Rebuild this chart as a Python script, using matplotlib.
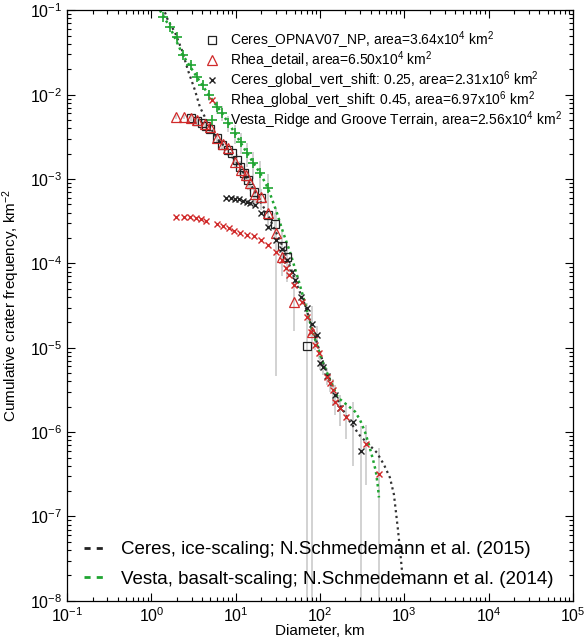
import numpy as np
import matplotlib
matplotlib.use("Agg")
import matplotlib.pyplot as plt
from matplotlib.lines import Line2D
from matplotlib.ticker import LogLocator

plt.rcParams['font.family'] = ['Liberation Sans', 'DejaVu Sans']
plt.rcParams['mathtext.fontset'] = 'custom'
plt.rcParams['mathtext.rm'] = 'Liberation Sans'
plt.rcParams['mathtext.it'] = 'Liberation Sans'
plt.rcParams['mathtext.bf'] = 'Liberation Sans'

# --- data (diameter km, cumulative frequency km^-2, relative error) ---
ceres_np_d = [2.94, 3.46, 3.97, 4.43, 4.94, 5.98, 6.86, 8.07, 9.02, 10.3, 11.2, 12.5, 14.0,
              16.4, 19.9, 24.1, 29.2, 35.3, 40.5, 70.0]
ceres_np_n = [5.27e-3, 4.86e-3, 4.6e-3, 4.24e-3, 3.91e-3, 3.05e-3, 2.52e-3, 2.2e-3, 2.03e-3,
              1.68e-3, 1.39e-3, 1.18e-3, 9.7e-4, 7.0e-4, 5.96e-4, 3.75e-4, 2.93e-4, 1.61e-4,
              1.19e-4, 1.06e-5]
ceres_np_f = [0.08, 0.09, 0.1, 0.1, 0.11, 0.12, 0.13, 0.15, 0.16, 0.17, 0.19, 0.21, 0.23,
              0.26, 0.28, 0.33, 0.36, 0.45, 0.5, 1.0]

rhea_det_d = [1.95, 2.43, 2.94, 3.46, 4.31, 4.94, 5.98, 7.05, 8.07, 9.78, 11.5, 13.2, 14.7,
              16.9, 19.9, 24.1, 30.0, 35.3, 49.0, 80.0]
rhea_det_n = [5.42e-3, 5.42e-3, 5.27e-3, 4.99e-3, 4.48e-3, 4.12e-3, 3.05e-3, 2.6e-3, 2.33e-3,
              1.59e-3, 1.28e-3, 1.11e-3, 8.97e-4, 6.64e-4, 6.12e-4, 3.96e-4, 2.3e-4, 1.19e-4,
              3.5e-5, 1.55e-5]
rhea_det_f = [0.06, 0.06, 0.07, 0.07, 0.08, 0.09, 0.1, 0.11, 0.12, 0.14, 0.16, 0.18, 0.2,
              0.23, 0.25, 0.3, 0.98, 0.4, 0.55, 1.0]

ceres_gl_d = [7.65, 8.77, 9.78, 10.9, 12.2, 13.6, 14.7, 16.9, 19.9, 24.1, 30.0, 35.3, 40.5,
              46.4, 50.4, 59.3, 70.0, 80.0, 91.9, 99.7, 108, 121, 150, 172, 245, 305]
ceres_gl_n = [5.96e-4, 5.96e-4, 5.8e-4, 5.8e-4, 5.5e-4, 5.35e-4, 5.2e-4, 4.92e-4, 3.96e-4,
              2.7e-4, 1.9e-4, 1.49e-4, 1.1e-4, 7.94e-5, 6.38e-5, 4.0e-5, 2.97e-5, 1.92e-5,
              1.43e-5, 6.64e-6, 5.96e-6, 4.66e-6, 2.78e-6, 1.95e-6, 1.33e-6, 5.9e-7]
ceres_gl_f = [0.01, 0.01, 0.01, 0.01, 0.01, 0.01, 0.02, 0.02, 0.02, 0.03, 0.04, 0.05, 0.06,
              0.08, 0.1, 0.12, 0.15, 0.18, 0.25, 0.18, 0.2, 0.22, 0.3, 0.4, 0.7, 1.0]

rhea_gl_d = [1.95, 2.43, 2.86, 3.37, 3.86, 4.43, 5.98, 7.05, 8.3, 9.52, 11.2, 13.6, 16.4,
             19.9, 24.1, 30.0, 35.3, 39.4, 42.7, 49.0, 61.0, 70.0, 78.0, 87.0, 97.0, 121,
             131, 142, 150, 172, 203, 350, 500]
rhea_gl_n = [3.55e-4, 3.55e-4, 3.55e-4, 3.45e-4, 3.36e-4, 3.18e-4, 2.93e-4, 2.78e-4, 2.63e-4,
             2.43e-4, 2.3e-4, 2.17e-4, 2.11e-4, 1.9e-4, 1.66e-4, 1.37e-4, 1.1e-4, 8.85e-5,
             7.31e-5, 5.57e-5, 3.5e-5, 2.33e-5, 1.55e-5, 1.09e-5, 8.73e-6, 4.54e-6, 3.85e-6,
             3.18e-6, 2.3e-6, 1.95e-6, 1.52e-6, 7.3e-7, 3.23e-7]
rhea_gl_f = [0.01, 0.01, 0.01, 0.01, 0.01, 0.01, 0.01, 0.01, 0.01, 0.01, 0.01, 0.01, 0.01,
             0.02, 0.02, 0.02, 0.03, 0.04, 0.05, 0.06, 0.08, 0.1, 0.12, 0.14, 0.16, 0.18,
             0.22, 0.35, 0.3, 0.4, 0.45, 0.68, 1.0]

vesta_d = [1.37, 1.66, 2.01, 2.36, 2.94, 3.46, 4.08, 4.81, 5.98, 6.86, 8.07, 9.78, 11.5,
           13.6, 16.0, 19.4, 24.1]
vesta_n = [8.26e-2, 6.29e-2, 4.79e-2, 2.93e-2, 2.23e-2, 1.61e-2, 1.3e-2, 9.86e-3, 7.11e-3,
           6.04e-3, 4.6e-3, 3.5e-3, 2.74e-3, 2.03e-3, 1.55e-3, 1.18e-3, 7.82e-4]
vesta_f = [0.04, 0.05, 0.06, 0.08, 0.09, 0.11, 0.13, 0.15, 0.18, 0.2, 0.22, 0.25, 0.28,
           0.31, 0.35, 0.4, 0.45]

# production functions
ceres_pf_d = [1.445, 1.569, 1.90, 2.30, 2.71, 3.28, 3.76, 4.31, 4.94, 5.98, 8.08, 11.2, 16.4,
              24.1, 35.3, 50.4, 66.2, 82.4, 108, 138, 172, 226, 297, 370, 473, 573, 675, 753,
              840, 912, 964]
ceres_pf_n = [9.47e-2, 7.62e-2, 5.49e-2, 3.36e-2, 1.95e-2, 1.13e-2, 7.11e-3, 5.42e-3, 4.12e-3,
              3.05e-3, 2.2e-3, 1.39e-3, 7.41e-4, 3.75e-4, 1.66e-4, 6.38e-5, 3.23e-5, 1.63e-5,
              6.83e-6, 3.45e-6, 2.11e-6, 1.33e-6, 9.1e-7, 7.31e-7, 5.71e-7, 4.12e-7, 2.89e-7,
              1.82e-7, 7.02e-8, 3.1e-8, 1.66e-8]

vesta_pf_d = [1.261, 1.658, 2.364, 3.47, 4.81, 6.86, 9.78, 13.6, 19.4, 24.1, 30.0, 36.3, 44.0,
              53.2, 66.2, 80.2, 105, 131, 163, 208, 260, 297, 341, 380, 425, 460, 486, 500]
vesta_pf_n = [1e-1, 6.29e-2, 2.93e-2, 1.61e-2, 9.86e-3, 6.04e-3, 3.5e-3, 2.03e-3, 1.18e-3,
              7.82e-4, 4.3e-4, 2.36e-4, 1.37e-4, 7.31e-5, 3.41e-5, 1.63e-5, 7.21e-6, 4.18e-6,
              2.56e-6, 2.11e-6, 1.75e-6, 1.41e-6, 1.01e-6, 7.11e-7, 4.73e-7, 3.41e-7, 2.26e-7,
              1.68e-7]

RED = '#d02a2a'
GREEN = '#1fa531'
GREY = '#cfcfcf'


def err_bars(ax, d, n, f):
    n = np.array(n)
    f = np.array(f)
    lo = np.maximum(n * (1 - f), 1e-10)
    hi = n * (1 + f)
    ax.errorbar(d, n, yerr=[n - lo, hi - n], fmt='none', ecolor=GREY,
                elinewidth=1.3, capsize=0, zorder=1)


fig = plt.figure(figsize=(5.84, 6.44), dpi=100)
ax = fig.add_axes([0.115, 0.067, 0.866, 0.917])

for d, n, f in [(vesta_d, vesta_n, vesta_f), (ceres_np_d, ceres_np_n, ceres_np_f),
                (rhea_det_d, rhea_det_n, rhea_det_f), (ceres_gl_d, ceres_gl_n, ceres_gl_f),
                (rhea_gl_d, rhea_gl_n, rhea_gl_f)]:
    err_bars(ax, d, n, f)

ax.plot(ceres_pf_d, ceres_pf_n, color='#333333', lw=1.6, ls=(0, (1, 1.6)), zorder=2)
ax.plot(vesta_pf_d, vesta_pf_n, color=GREEN, lw=1.8, ls=(0, (1, 1.4)), zorder=2)

h1, = ax.plot(ceres_np_d, ceres_np_n, 's', mfc='none', mec='#222222', ms=5.5, mew=0.9, zorder=3)
h2, = ax.plot(rhea_det_d, rhea_det_n, '^', mfc='none', mec=RED, ms=6.5, mew=0.9, zorder=3)
h3, = ax.plot(ceres_gl_d, ceres_gl_n, 'x', color='#222222', ms=5, mew=1.0, zorder=4)
h4, = ax.plot(rhea_gl_d, rhea_gl_n, 'x', color=RED, ms=5, mew=1.0, zorder=4)
h5, = ax.plot(vesta_d, vesta_n, '+', color=GREEN, ms=6.5, mew=1.2, zorder=4)

ax.set_xscale('log')
ax.set_yscale('log')
ax.set_xlim(1e-1, 1e5)
ax.set_ylim(1e-8, 1e-1)

for axis in (ax.xaxis, ax.yaxis):
    axis.set_major_locator(LogLocator(base=10, numticks=20))
    axis.set_minor_locator(LogLocator(base=10, subs=np.arange(2, 10), numticks=100))
ax.tick_params(which='both', direction='in', top=True, right=True, labelsize=11.5, width=0.8)
ax.tick_params(which='major', length=6)
ax.tick_params(which='minor', length=3)
ax.tick_params(axis='x', pad=4)
for s in ax.spines.values():
    s.set_linewidth(0.9)

ax.set_xlabel('Diameter, km', fontsize=11, labelpad=-1)
ax.set_ylabel('Cumulative crater frequency, km$^{-2}$', fontsize=11, labelpad=6)

leg1 = ax.legend([h1, h2, h3, h4, h5],
                 ['Ceres_OPNAV07_NP, area=3.64x10$^{4}$ km$^{2}$',
                  'Rhea_detail, area=6.50x10$^{4}$ km$^{2}$',
                  'Ceres_global_vert_shift: 0.25, area=2.31x10$^{6}$ km$^{2}$',
                  'Rhea_global_vert_shift: 0.45, area=6.97x10$^{6}$ km$^{2}$',
                  'Vesta_Ridge and Groove Terrain, area=2.56x10$^{4}$ km$^{2}$'],
                 loc='upper right', bbox_to_anchor=(0.995, 0.982), frameon=False, fontsize=10,
                 handlelength=0.8, handletextpad=0.9, labelspacing=-0.12, borderaxespad=0.2)
ax.add_artist(leg1)

pf_handles = [Line2D([], [], color='#222222', lw=2, ls=(0, (2.2, 2.2))),
              Line2D([], [], color=GREEN, lw=2, ls=(0, (2.2, 2.2)))]
ax.legend(pf_handles,
          ['Ceres, ice-scaling; N.Schmedemann et al. (2015)',
           'Vesta, basalt-scaling; N.Schmedemann et al. (2014)'],
          loc='lower left', bbox_to_anchor=(0.0, -0.006), frameon=False, fontsize=13.5,
          handlelength=1.2, handletextpad=0.75, labelspacing=0.65)

fig.savefig('out.png', dpi=100)
